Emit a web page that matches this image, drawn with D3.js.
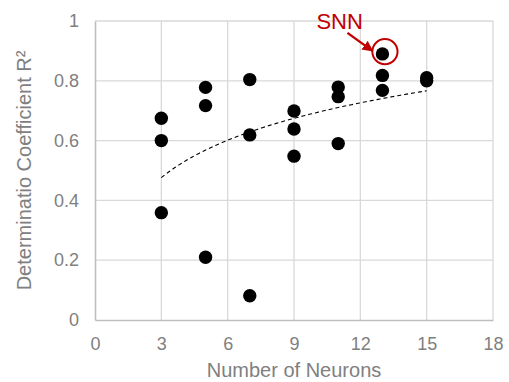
<!DOCTYPE html>
<html lang="en">

<head>
    <meta charset="UTF-8">
    <script src="https://d3js.org/d3.v7.min.js"></script>
    <title>R2 vs neurons</title>
    <style>
        body { margin: 0; background: #fff; }
        text { font-family: "Liberation Sans", Arial, Helvetica, sans-serif; }
    </style>
</head>

<body>
    <div id="chart"></div>
    <script>
        // number of neurons of each trained network and its R^2
        const neurons = [3, 3, 3, 5, 5, 5, 7, 7, 7, 9, 9, 9, 11, 11, 11, 13, 13, 13, 15, 15];
        const r2 = [0.675, 0.60, 0.359, 0.778, 0.717, 0.21, 0.804, 0.619, 0.081, 0.699, 0.639, 0.548,
            0.779, 0.747, 0.59, 0.89, 0.818, 0.768, 0.81, 0.80];
        const xTicks = [0, 3, 6, 9, 12, 15, 18];
        const yTicks = [0, 0.2, 0.4, 0.6, 0.8, 1];
        const snnIndex = 15;

        const width = 509, height = 382;
        const marginTop = 21, marginRight = 16, marginBottom = 62, marginLeft = 95;

        const x = d3.scaleLinear([0, 18], [marginLeft, width - marginRight]);
        const y = d3.scaleLinear([0, 1], [height - marginBottom, marginTop]);

        const svg = d3.select("#chart").append("svg")
            .attr("width", width)
            .attr("height", height)
            .attr("viewBox", [0, 0, width, height]);

        // grid
        svg.append("g")
            .attr("stroke", "#d9d9d9")
            .attr("stroke-width", 1.3)
            .call(g => g.selectAll(".v").data(xTicks.slice(1)).join("line")
                .attr("x1", d => x(d)).attr("x2", d => x(d))
                .attr("y1", y(0)).attr("y2", y(1)))
            .call(g => g.selectAll(".h").data(yTicks.slice(1)).join("line")
                .attr("y1", d => y(d)).attr("y2", d => y(d))
                .attr("x1", x(0)).attr("x2", x(18)));

        // axes
        svg.append("g")
            .attr("transform", `translate(0,${y(0)})`)
            .call(d3.axisBottom(x).tickValues(xTicks).tickSize(0).tickPadding(17).tickFormat(d3.format("d")))
            .call(g => g.select(".domain").attr("stroke", "#bfbfbf").attr("stroke-width", 1.6))
            .call(g => g.selectAll("text").attr("fill", "#808080").attr("font-size", 18));

        svg.append("g")
            .attr("transform", `translate(${x(0)},0)`)
            .call(d3.axisLeft(y).tickValues(yTicks).tickSize(0).tickPadding(16).tickFormat(d => d))
            .call(g => g.select(".domain").attr("stroke", "#bfbfbf").attr("stroke-width", 1.6))
            .call(g => g.selectAll("text").attr("fill", "#808080").attr("font-size", 18));

        svg.append("text")
            .attr("x", (x(0) + x(18)) / 2)
            .attr("y", 377)
            .attr("text-anchor", "middle")
            .attr("fill", "#808080")
            .attr("font-size", 20)
            .text("Number of Neurons");

        svg.append("text")
            .attr("transform", `translate(31,${(y(0) + y(1)) / 2}) rotate(-90)`)
            .attr("text-anchor", "middle")
            .attr("fill", "#808080")
            .attr("font-size", 20)
            .text("Determinatio Coefficient R²");

        // logarithmic trendline (least squares on ln x)
        const lx = neurons.map(Math.log);
        const mx = d3.mean(lx), my = d3.mean(r2);
        const slope = d3.sum(lx, (v, i) => (v - mx) * (r2[i] - my)) / d3.sum(lx, v => (v - mx) ** 2);
        const icpt = my - slope * mx;
        const trendX = d3.range(d3.min(neurons), d3.max(neurons) + 0.001, 0.1);

        svg.append("path")
            .datum(trendX)
            .attr("fill", "none")
            .attr("stroke", "#000")
            .attr("stroke-width", 1.1)
            .attr("stroke-dasharray", "4,3")
            .attr("d", d3.line(d => x(d), d => y(slope * Math.log(d) + icpt)));

        // points
        svg.append("g")
            .selectAll("circle")
            .data(neurons)
            .join("circle")
            .attr("cx", d => x(d))
            .attr("cy", (d, i) => y(r2[i]))
            .attr("r", 6.7)
            .attr("fill", "#000");

        // SNN annotation
        const red = "#c00000";
        const px = x(neurons[snnIndex]), py = y(r2[snnIndex]);
        svg.append("defs").append("marker")
            .attr("id", "head")
            .attr("viewBox", "0 0 10 10")
            .attr("refX", 9).attr("refY", 5)
            .attr("markerWidth", 4.5).attr("markerHeight", 4.5)
            .attr("orient", "auto")
            .append("path")
            .attr("d", "M0,0L10,5L0,10z")
            .attr("fill", red);

        svg.append("circle")
            .attr("cx", px + 2.5)
            .attr("cy", py - 2.3)
            .attr("r", 12.6)
            .attr("fill", "none")
            .attr("stroke", red)
            .attr("stroke-width", 2);

        svg.append("line")
            .attr("x1", px - 35).attr("y1", py - 21)
            .attr("x2", px - 10).attr("y2", py - 3)
            .attr("stroke", red)
            .attr("stroke-width", 2.4)
            .attr("marker-end", "url(#head)");

        svg.append("text")
            .attr("x", px - 66)
            .attr("y", py - 25)
            .attr("fill", red)
            .attr("font-size", 22)
            .text("SNN");
    </script>
</body>

</html>
